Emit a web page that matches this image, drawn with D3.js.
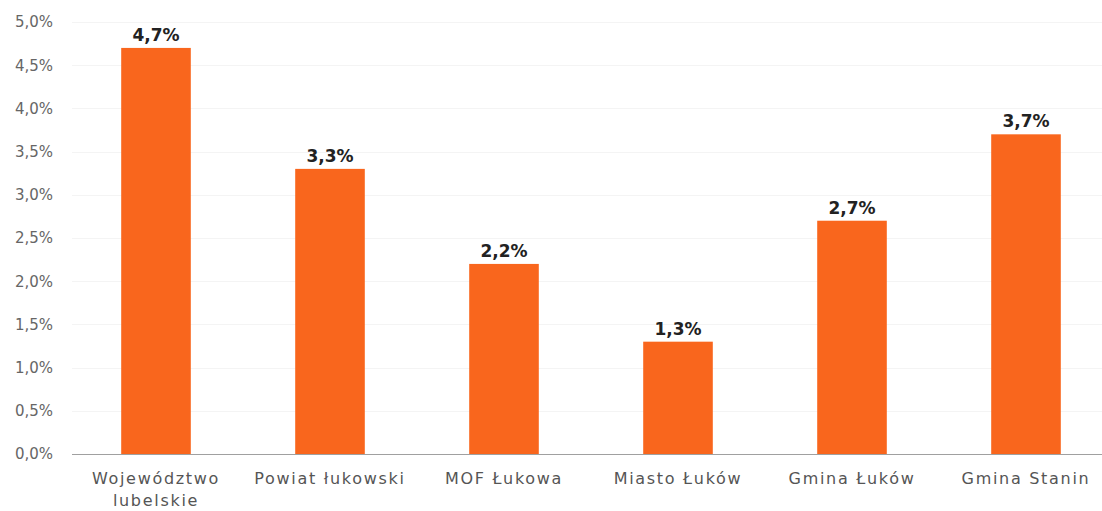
<!DOCTYPE html>
<html>
<head>
<meta charset="utf-8">
<script src="https://cdn.jsdelivr.net/npm/d3@7/dist/d3.min.js"></script>
<style>
  html, body { margin: 0; padding: 0; background: #fff; }
  svg { display: block; }
</style>
</head>
<body>
<svg id="chart" width="1102" height="511"></svg>
<script>
// Share of population by area (percent)
const categories = [
  ["Województwo", "lubelskie"],
  ["Powiat łukowski"],
  ["MOF Łukowa"],
  ["Miasto Łuków"],
  ["Gmina Łuków"],
  ["Gmina Stanin"]
];
const values = [4.7, 3.3, 2.2, 1.3, 2.7, 3.7];
const valueLabels = ["4,7%", "3,3%", "2,2%", "1,3%", "2,7%", "3,7%"];
const yTicks = [0, 0.5, 1.0, 1.5, 2.0, 2.5, 3.0, 3.5, 4.0, 4.5, 5.0];

const svg = d3.select("#chart");
const fontFamily = "'DejaVu Sans', sans-serif";

const x = d3.scaleBand()
  .domain(d3.range(values.length))
  .range([69, 1113])
  .paddingInner(0.6)
  .paddingOuter(0.3);

const y = d3.scaleLinear()
  .domain([0, 5])
  .range([454, 22]);

const fmt = v => d3.format(".1f")(v).replace(".", ",") + "%";

// faint horizontal gridlines
svg.append("g")
  .selectAll("line")
  .data(yTicks.slice(1))
  .join("line")
  .attr("x1", 72).attr("x2", 1102)
  .attr("y1", d => Math.round(y(d)) + 0.5)
  .attr("y2", d => Math.round(y(d)) + 0.5)
  .attr("stroke", "#f4f4f4")
  .attr("stroke-width", 1);

// y axis tick labels (no axis line)
const yAxis = d3.axisLeft(y).tickValues(yTicks).tickFormat(fmt).tickSize(0).tickPadding(0);
const gy = svg.append("g").attr("transform", "translate(53,0)").call(yAxis);
gy.select(".domain").remove();
gy.selectAll("text")
  .attr("fill", "#666")
  .style("font-family", fontFamily)
  .style("font-size", "15px");

// bars
svg.append("g")
  .selectAll("rect")
  .data(values)
  .join("rect")
  .attr("x", (d, i) => x(i))
  .attr("width", x.bandwidth())
  .attr("y", d => y(d))
  .attr("height", d => y(0) - y(d))
  .attr("fill", "#F9661D");

// value labels
svg.append("g")
  .selectAll("text")
  .data(values)
  .join("text")
  .attr("x", (d, i) => x(i) + x.bandwidth() / 2)
  .attr("y", d => y(d) - 7)
  .attr("text-anchor", "middle")
  .attr("fill", "#222")
  .style("font-family", fontFamily)
  .style("font-weight", "bold")
  .style("font-size", "17px")
  .text((d, i) => valueLabels[i]);

// x axis baseline
svg.append("line")
  .attr("x1", 72).attr("x2", 1102)
  .attr("y1", y(0) + 0.5).attr("y2", y(0) + 0.5)
  .attr("stroke", "#a0a0a0")
  .attr("stroke-width", 1);

// category labels
const cat = svg.append("g")
  .selectAll("text")
  .data(categories)
  .join("text")
  .attr("x", (d, i) => x(i) + x.bandwidth() / 2)
  .attr("y", 484)
  .attr("text-anchor", "middle")
  .attr("fill", "#555")
  .style("font-family", fontFamily)
  .style("font-size", "16px")
  .style("letter-spacing", "1.7px");
cat.selectAll("tspan")
  .data(d => d)
  .join("tspan")
  .attr("x", function () { return d3.select(this.parentNode).attr("x"); })
  .attr("dy", (d, i) => i === 0 ? 0 : 22)
  .text(d => d);
</script>
</body>
</html>
